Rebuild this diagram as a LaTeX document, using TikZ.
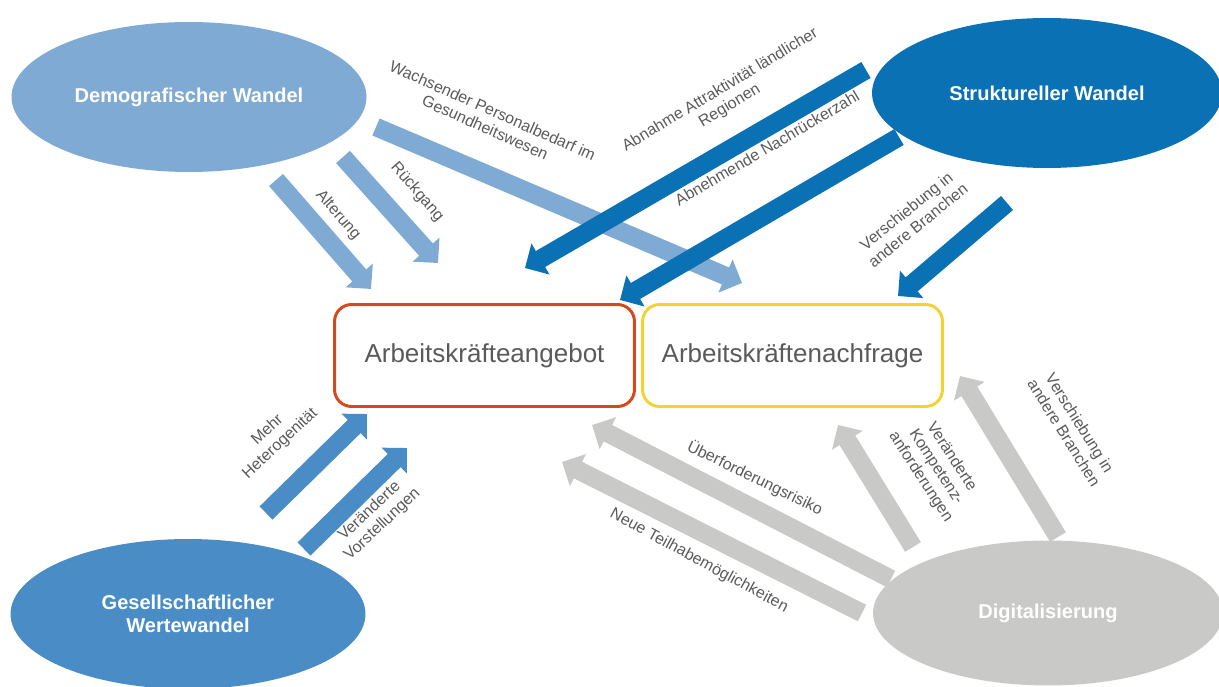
\documentclass[tikz,border=0pt]{standalone}
\usepackage{fontspec}
\setmainfont{Liberation Sans}
\usetikzlibrary{arrows.meta,shapes.geometric}
\definecolor{lblue}{HTML}{7FAAD3}
\definecolor{dblue}{HTML}{0A71B4}
\definecolor{mblue}{HTML}{4A8DC6}
\definecolor{dgray}{HTML}{C9C9C8}
\definecolor{boxred}{HTML}{D4491E}
\definecolor{boxyellow}{HTML}{F3D332}
\definecolor{txtgray}{HTML}{5A5A5A}
\begin{document}
\begin{tikzpicture}[x=0.02cm,y=-0.02cm,
  ell/.style={ellipse,inner sep=0pt,minimum width=7.1cm,minimum height=3cm,
    text=white,align=center,font=\fontsize{11.4}{13}\selectfont\bfseries},
  blk/.style={line width=10.5pt,-{Triangle[width=19.9pt,length=10.2pt]}},
  lbl/.style={font=\fontsize{9.1}{10.5}\selectfont,text=txtgray,align=center,inner sep=0pt},
  bx/.style={draw,rounded corners=0.34cm,line width=1.7pt,minimum width=6.0cm,
    minimum height=2.04cm,font=\fontsize{14.8}{17}\selectfont,text=txtgray}]
\useasboundingbox (0,0) rectangle (1219,686);
\clip (0,0) rectangle (1219,686);

% ellipses
\node[ell,fill=lblue] (demo) at (189,97) {Demografischer Wandel};
\node[ell,fill=dblue,minimum width=7.0cm] (struk) at (1047,93) {Struktureller Wandel};
\node[ell,fill=mblue] (ges) at (188,614) {Gesellschaftlicher\\Wertewandel};
\node[ell,fill=dgray,minimum width=7.0cm,minimum height=2.9cm] (dig) at (1048,613) {Digitalisierung};

% boxes
\node[bx,draw=boxred] (ang) at (484.5,355.5) {Arbeitskräfteangebot};
\node[bx,draw=boxyellow] (nach) at (792.5,355.5) {Arbeitskräftenachfrage};

% arrow end points
\coordinate (a1s) at (276,180); \coordinate (a1e) at (371,289);
\coordinate (a2s) at (343,157); \coordinate (a2e) at (438,263);
\coordinate (a3s) at (376,127); \coordinate (a3e) at (742,283);
\coordinate (b1s) at (866,70);  \coordinate (b1e) at (525,268);
\coordinate (b2s) at (899,137); \coordinate (b2e) at (620,300);
\coordinate (b3s) at (1007,203); \coordinate (b3e) at (898,296);
\coordinate (c1s) at (266,513); \coordinate (c1e) at (367,414);
\coordinate (c2s) at (304,549); \coordinate (c2e) at (407,448);
\coordinate (d1s) at (891,579); \coordinate (d1e) at (592,425);
\coordinate (d2s) at (862,613); \coordinate (d2e) at (562,462);
\coordinate (d3s) at (913,547); \coordinate (d3e) at (838,425);
\coordinate (d4s) at (1058,537); \coordinate (d4e) at (960,376);

% arrows
\draw[blk,lblue] (a1s) -- (a1e);
\draw[blk,lblue] (a2s) -- (a2e);
\draw[blk,lblue] (a3s) -- (a3e);
\draw[blk,dblue] (b1s) -- (b1e);
\draw[blk,dblue] (b2s) -- (b2e);
\draw[blk,dblue] (b3s) -- (b3e);
\draw[blk,mblue] (c1s) -- (c1e);
\draw[blk,mblue] (c2s) -- (c2e);
\draw[blk,dgray] (d1s) -- (d1e);
\draw[blk,dgray] (d2s) -- (d2e);
\draw[blk,dgray] (d3s) -- (d3e);
\draw[blk,dgray] (d4s) -- (d4e);

% labels
\node[lbl,rotate=-49] (lalt) at (338,215) {Alterung};
\node[lbl,rotate=-49] (lrue) at (417,192) {Rückgang};
\node[lbl,rotate=-24] (lwach) at (489,119) {Wachsender Personalbedarf im\\Gesundheitswesen};
\node[lbl,rotate=31] (labn) at (725,98) {Abnahme Attraktivität ländlicher\\Regionen};
\node[lbl,rotate=30.5] (lnach) at (767,148) {Abnehmende Nachrückerzahl};
\node[lbl,rotate=39] (lver1) at (912,218) {Verschiebung in\\andere Branchen};
\node[lbl,rotate=43] (lmehr) at (274,437) {Mehr\\Heterogenität};
\node[lbl,rotate=43] (lvor) at (376,518) {Veränderte\\Vorstellungen};
\node[lbl,rotate=-26] (lueb) at (755,478) {Überforderungsrisiko};
\node[lbl,rotate=-28.5] (lneu) at (699,561) {Neue Teilhabemöglichkeiten};
\node[lbl,rotate=-57] (lkomp) at (936,467) {Veränderte\\Kompetenz-\\anforderungen};
\node[lbl,rotate=-58] (lver2) at (1072,428) {Verschiebung in\\andere Branchen};
\end{tikzpicture}
\end{document}
